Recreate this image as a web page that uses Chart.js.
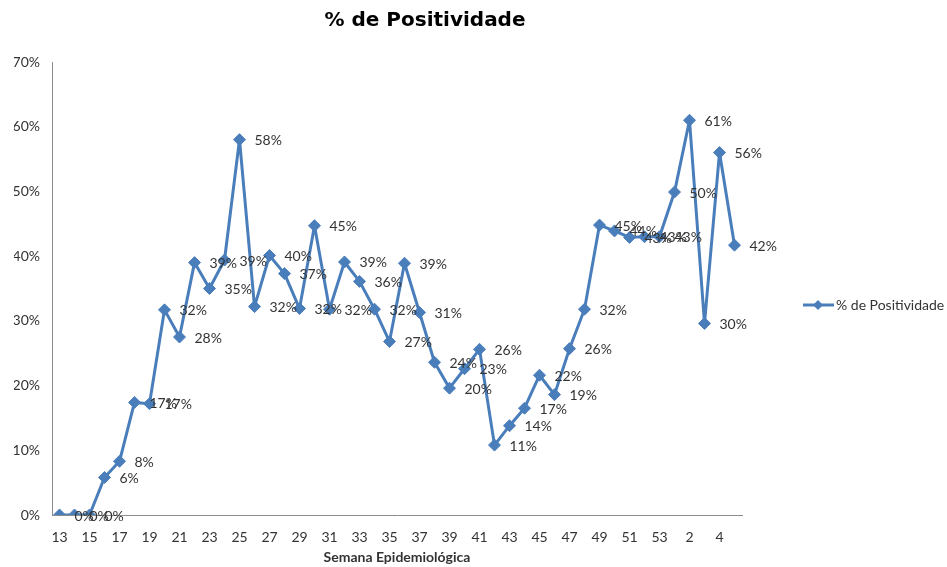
<!DOCTYPE html>
<html>
<head>
<meta charset="utf-8">
<script src="https://cdn.jsdelivr.net/npm/chart.js@4"></script>
<style>
  html, body { margin: 0; padding: 0; background: #fff; }
  #wrap { width: 947px; height: 567px; }
</style>
</head>
<body>
<div id="wrap"><canvas id="positividadeChart"></canvas></div>
<script>
// Semanas epidemiológicas (13 a 53, depois 1 a 5)
const semanas = ['13','14','15','16','17','18','19','20','21','22','23','24','25','26','27','28','29','30',
  '31','32','33','34','35','36','37','38','39','40','41','42','43','44','45','46','47','48','49','50',
  '51','52','53','1','2','3','4','5'];

// % de positividade por semana
const positividade = [0, 0, 0, 5.8, 8.3, 17.4, 17.2, 31.7, 27.5, 39.0, 35.0, 39.4, 58.0, 32.2, 40.1, 37.3,
  31.9, 44.7, 31.8, 39.1, 36.1, 31.8, 26.8, 38.9, 31.3, 23.6, 19.6, 22.6, 25.6, 10.8, 13.8, 16.5, 21.6,
  18.6, 25.7, 31.8, 44.8, 43.9, 42.9, 43.0, 43.0, 49.9, 61.0, 29.6, 56.0, 41.7];

const yTicks = [0, 10, 20, 30, 40, 50, 60, 70];

const azul = '#4A7EBB';
const textoCor = '#333333';
const eixoCor = '#8C8C8C';
const fonte = 'Lato, "DejaVu Sans", sans-serif';

// Rótulos de dados, título e legenda no estilo do Excel
const extras = {
  id: 'extras',
  afterDatasetsDraw(chart) {
    const ctx = chart.ctx;
    const meta = chart.getDatasetMeta(0);
    ctx.save();
    ctx.font = '14px ' + fonte;
    ctx.fillStyle = textoCor;
    ctx.textBaseline = 'middle';
    ctx.textAlign = 'left';
    meta.data.forEach((pt, i) => {
      ctx.fillText(Math.round(positividade[i]) + '%', pt.x + 15, pt.y + 1);
    });

    // titulo
    ctx.font = 'bold 20px "DejaVu Sans", sans-serif';
    ctx.fillStyle = '#000';
    ctx.textAlign = 'center';
    ctx.fillText('% de Positividade', 425, 21);

    // legenda
    const ly = 305, lx = 803;
    ctx.strokeStyle = azul;
    ctx.lineWidth = 3;
    ctx.beginPath();
    ctx.moveTo(lx, ly);
    ctx.lineTo(lx + 31, ly);
    ctx.stroke();
    ctx.fillStyle = azul;
    ctx.beginPath();
    ctx.moveTo(lx + 15, ly - 5);
    ctx.lineTo(lx + 20, ly);
    ctx.lineTo(lx + 15, ly + 5);
    ctx.lineTo(lx + 10, ly);
    ctx.closePath();
    ctx.fill();
    ctx.font = '14px ' + fonte;
    ctx.fillStyle = textoCor;
    ctx.textAlign = 'left';
    ctx.fillText('% de Positividade', lx + 33, ly);
    ctx.restore();
  }
};

new Chart(document.getElementById('positividadeChart'), {
  type: 'line',
  data: {
    labels: semanas,
    datasets: [{
      label: '% de Positividade',
      data: positividade,
      borderColor: azul,
      backgroundColor: azul,
      borderWidth: 3,
      borderJoinStyle: 'round',
      tension: 0,
      pointStyle: 'rectRot',
      pointRadius: 6,
      pointHoverRadius: 6,
      pointBackgroundColor: azul,
      pointBorderColor: azul,
      pointBorderWidth: 1
    }]
  },
  options: {
    responsive: true,
    maintainAspectRatio: false,
    animation: false,
    layout: { padding: { top: 62, left: 14, right: 205, bottom: 0 } },
    plugins: {
      legend: { display: false },
      title: { display: false },
      tooltip: { enabled: false }
    },
    scales: {
      x: {
        offset: true,
        grid: { display: false, drawTicks: false },
        border: { color: eixoCor, width: 1 },
        afterFit: axis => { axis.height = 52; },
        ticks: {
          autoSkip: false,
          maxRotation: 0,
          padding: 14,
          color: textoCor,
          font: { family: fonte, size: 14 },
          callback: (v, i) => (i % 2 === 0 ? semanas[i] : '')
        },
        title: {
          display: true,
          text: 'Semana Epidemiológica',
          color: textoCor,
          font: { family: fonte, size: 14, weight: 'bold' },
          padding: { top: 2, bottom: 1 }
        }
      },
      y: {
        min: 0,
        max: 70,
        afterBuildTicks: axis => { axis.ticks = yTicks.map(v => ({ value: v })); },
        afterFit: axis => { axis.width = 38; },
        grid: { display: false, drawTicks: false },
        border: { color: eixoCor, width: 1 },
        ticks: {
          padding: 12,
          color: textoCor,
          font: { family: fonte, size: 14 },
          callback: v => v + '%'
        }
      }
    }
  },
  plugins: [extras]
});
</script>
</body>
</html>
